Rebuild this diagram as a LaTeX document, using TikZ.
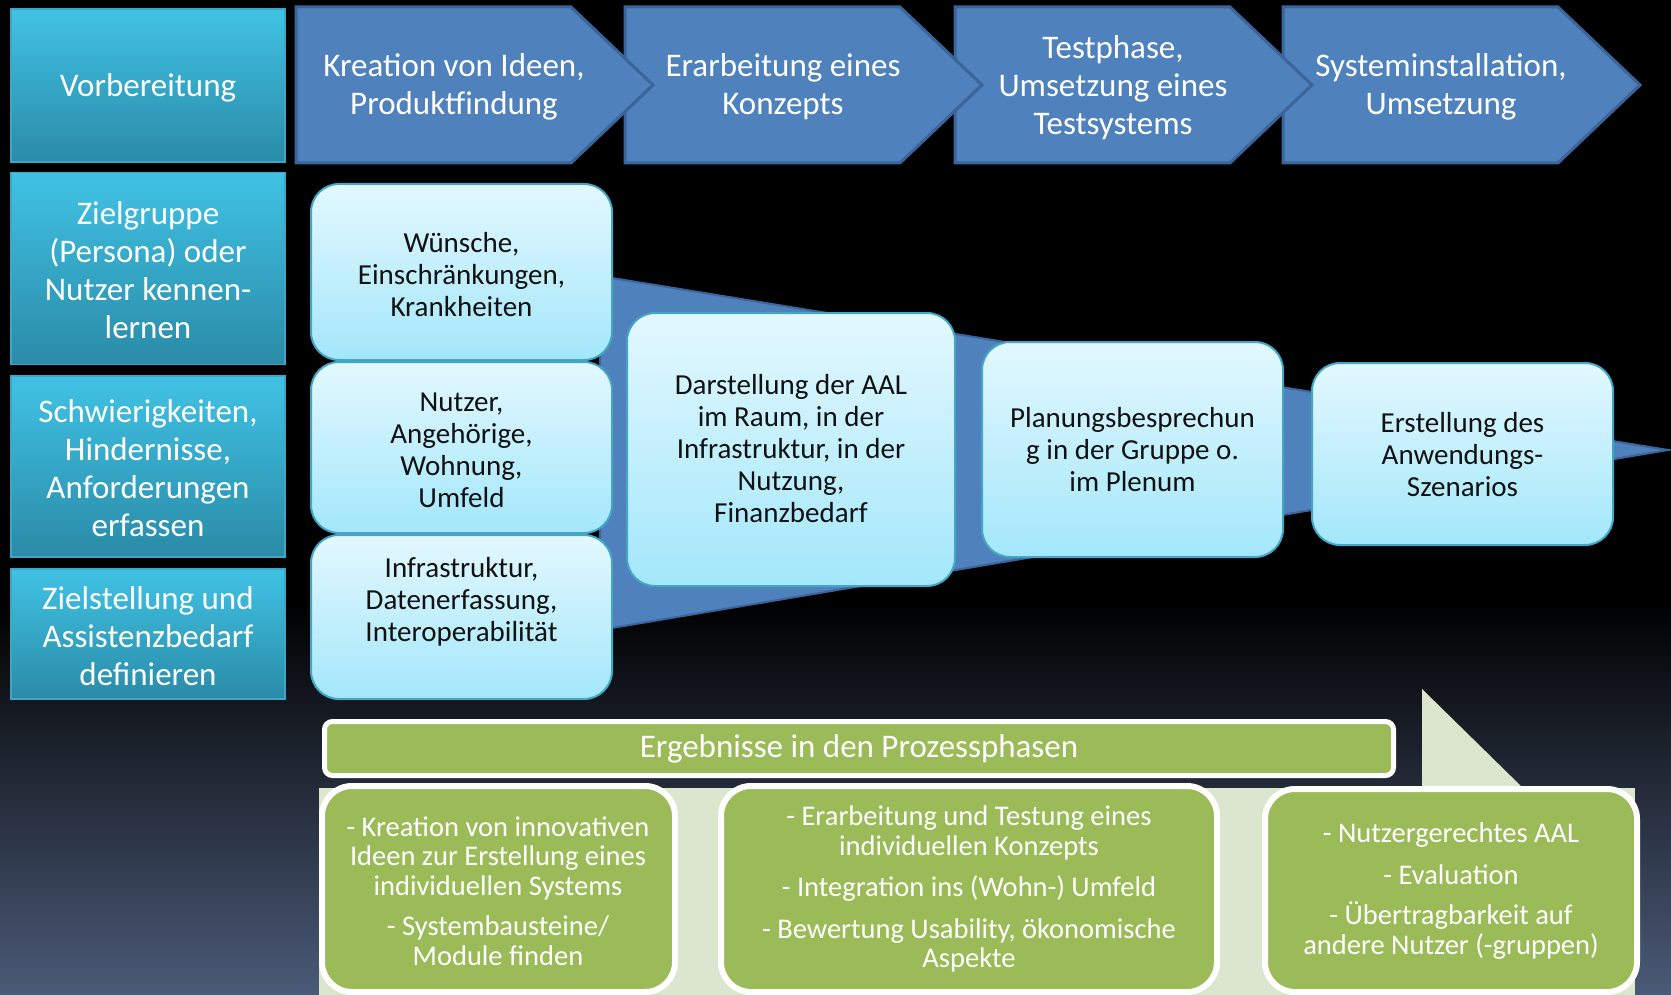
\documentclass[tikz,border=0pt]{standalone}
\usepackage{fontspec}
\setmainfont{Carlito}
\definecolor{chev}{HTML}{4F81BD}
\definecolor{chevb}{HTML}{3A649A}
\definecolor{lefttop}{HTML}{40C2E5}
\definecolor{leftbot}{HTML}{2A8BA7}
\definecolor{leftb}{HTML}{3FA6C6}
\definecolor{lighttop}{HTML}{E3F8FE}
\definecolor{lightbot}{HTML}{A3E7FB}
\definecolor{lightb}{HTML}{42A6C4}
\definecolor{grn}{HTML}{9BBB59}
\definecolor{pale}{HTML}{DCE6CE}
\definecolor{bgbot}{HTML}{4B5A77}
\definecolor{txt}{HTML}{111111}
\begin{document}
\begin{tikzpicture}[x=1pt,y=-1pt,
 leftbox/.style={draw=leftb, line width=1.5pt, top color=lefttop, bottom color=leftbot, inner sep=0pt, minimum width=274pt},
 lefttext/.style={text=white, align=center, font=\fontsize{33pt}{38pt}\selectfont},
 chevshape/.style={fill=chev, draw=chevb, line width=3pt, line join=miter},
 chevtext/.style={text=white, align=center, font=\fontsize{33pt}{38pt}\selectfont},
 lightbox/.style={draw=lightb, line width=2pt, rounded corners=28pt, top color=lighttop, bottom color=lightbot, inner sep=0pt},
 lighttext/.style={text=txt, align=center, font=\fontsize{29pt}{32pt}\selectfont},
 greenbox/.style={draw=white, line width=6pt, rounded corners=30pt, fill=grn, inner sep=0pt},
 greentext/.style={text=white, align=center, font=\fontsize{28.5pt}{29.5pt}\selectfont},
]
\useasboundingbox (0,0) rectangle (1671,995);
% background
\fill[black] (0,0) rectangle (1671,995);
\shade[top color=black, bottom color=bgbot] (0,600) rectangle (1671,995);

% left column
\node[leftbox, minimum height=153pt] (v) at (148,85.5) {};
\node[leftbox, minimum height=192pt] (z) at (148,268.5) {};
\node[leftbox, minimum height=181pt] (s) at (148,466.5) {};
\node[leftbox, minimum height=130pt] (zs) at (148,634) {};
\node[lefttext] (vt) at (148,87.5) {Vorbereitung};
\node[lefttext] (zt) at (148,270.5) {Zielgruppe\\(Persona) oder\\Nutzer kennen-\\lernen};
\node[lefttext] (st) at (148,468.5) {Schwierigkeiten,\\Hindernisse,\\Anforderungen\\erfassen};
\node[lefttext] (zst) at (148,636) {Zielstellung und\\Assistenzbedarf\\definieren};

% chevrons (right to left so that tips overlap the next one)
\foreach \L in {1283,955,625,296} {
  \draw[chevshape] (\L,7) -- (\L+275,7) -- (\L+357,85) -- (\L+275,163) -- (\L,163) -- cycle;
}
\node[chevtext] (c1) at (454,87) {Kreation von Ideen,\\Produktfindung};
\node[chevtext] (c2) at (783,87) {Erarbeitung eines\\Konzepts};
\node[chevtext] (c3) at (1113,88) {Testphase,\\Umsetzung eines\\Testsystems};
\node[chevtext] (c4) at (1441,87) {Systeminstallation,\\Umsetzung};

% funnel
\draw[fill=chev, draw=chevb, line width=2pt, line join=miter] (600,276) -- (1668,450) -- (600,630) -- cycle;

% light boxes
\node[lightbox, minimum width=301pt, minimum height=164pt] (lc) at (461.5,617) {};
\node[lightbox, minimum width=301pt, minimum height=171pt] (lb) at (461.5,447.5) {};
\node[lightbox, minimum width=301pt, minimum height=176pt] (la) at (461.5,272) {};
\node[lighttext] (lat) at (461.5,275) {Wünsche,\\Einschränkungen,\\Krankheiten};
\node[lighttext] (lbt) at (461.5,450.5) {Nutzer,\\Angehörige,\\Wohnung,\\Umfeld};
\node[lighttext] (lct) at (461.5,602) {Infrastruktur,\\Datenerfassung,\\Interoperabilität};
\node[lightbox, minimum width=328pt, minimum height=273pt] (d) at (791,449.5) {};
\node[lighttext] (dt) at (791,449) {Darstellung der AAL\\im Raum, in der\\Infrastruktur, in der\\Nutzung,\\Finanzbedarf};
\node[lightbox, minimum width=301pt, minimum height=215pt] (p) at (1132.5,449.5) {};
\node[lighttext] (pt) at (1132.5,450) {Planungsbesprechun\\g in der Gruppe o.\\im Plenum};
\node[lightbox, minimum width=301pt, minimum height=182pt] (e) at (1462.5,454) {};
\node[lighttext] (et) at (1462.5,455) {Erstellung des\\Anwendungs-\\Szenarios};

% pale callout
\fill[pale] (319,788) rectangle (1635,995);
\fill[pale] (1422,689) -- (1524,789) -- (1422,789) -- cycle;

% header bar
\node[draw=white, line width=5pt, rounded corners=8pt, fill=grn, minimum width=1069pt, minimum height=54pt, inner sep=0pt, text=white, font=\fontsize{33pt}{38pt}\selectfont] (hdr) at (859,748.5) {Ergebnisse in den Prozessphasen};

% green boxes
\node[greenbox, minimum width=353pt, minimum height=206pt] (g1) at (498.5,889) {};
\node[greenbox, minimum width=496pt, minimum height=206pt] (g2) at (969,889) {};
\node[greenbox, minimum width=372pt, minimum height=203pt] (g3) at (1451,890.5) {};
\node[greentext] (gt1) at (498,891) {- Kreation von innovativen\\Ideen zur Erstellung eines\\individuellen Systems\\[11pt]- Systembausteine/\\Module finden};
\node[greentext] (gt2) at (969,889) {- Erarbeitung und Testung eines\\individuellen Konzepts\\[12pt]- Integration ins (Wohn-) Umfeld\\[12pt]- Bewertung Usability, ökonomische\\Aspekte};
\node[greentext] (gt3) at (1451,891) {- Nutzergerechtes AAL\\[12pt]- Evaluation\\[11pt]- Übertragbarkeit auf\\andere Nutzer (-gruppen)};
\end{tikzpicture}
\end{document}
